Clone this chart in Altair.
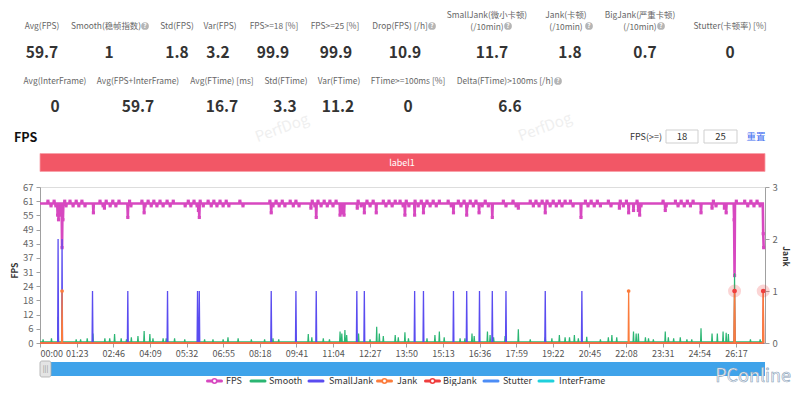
import altair as alt
import numpy as np
import pandas as pd

# ------------------------------------------------------------------
# values
# ------------------------------------------------------------------
stat1_labels = ["Avg(FPS)", "Smooth(稳帧指数)", "Std(FPS)", "Var(FPS)", "FPS>=18 [%]", "FPS>=25 [%]",
                "Drop(FPS) [/h]", "SmallJank(微小卡顿)", "Jank(卡顿)", "BigJank(严重卡顿)", "Stutter(卡顿率) [%]"]
stat1_sublabels = ["", "", "", "", "", "", "", "(/10min)", "(/10min)", "(/10min)", ""]
stat1_values = ["59.7", "1", "1.8", "3.2", "99.9", "99.9", "10.9", "11.7", "1.8", "0.7", "0"]
stat2_labels = ["Avg(InterFrame)", "Avg(FPS+InterFrame)", "Avg(FTime) [ms]", "Std(FTime)", "Var(FTime)",
                "FTime>=100ms [%]", "Delta(FTime)>100ms [/h]"]
stat2_values = ["0", "59.7", "16.7", "3.3", "11.2", "0", "6.6"]

series_names = ["FPS", "Smooth", "SmallJank", "Jank", "BigJank", "Stutter", "InterFrame"]
fps_threshold_inputs = ["18", "25"]

series_end_s = 1640          # last sample (seconds)
axis_end_s = 1643            # end of the time axis
x_tick_values = [0, 83, 166, 249, 332, 415, 498, 581, 664, 747, 830, 913, 996, 1079, 1162,
                 1245, 1328, 1411, 1494, 1577]
fps_tick_values = [0, 6.1, 12.2, 18.3, 24.4, 30.5, 36.6, 42.7, 48.8, 54.9, 61.0, 67.1]
jank_tick_values = [0, 1, 2, 3]

fps_base = 60
fps_hi_t = [18, 32, 56, 68, 82, 95, 136, 150, 165, 179, 203, 231, 245, 258, 272, 288, 302, 336, 349, 363,
            381, 394, 408, 422, 453, 521, 535, 549, 567, 580, 617, 630, 644, 657, 671, 721, 741, 755, 778,
            791, 805, 816, 830, 850, 864, 877, 891, 905, 925, 948, 961, 975, 988, 1009, 1050, 1072, 1111,
            1124, 1138, 1149, 1163, 1177, 1190, 1202, 1236, 1249, 1263, 1288, 1315, 1329, 1353, 1412, 1440,
            1453, 1467, 1480, 1526, 1578, 1597, 1611, 1625]
fps_lo_t = [25, 36, 59, 75, 88, 102, 143, 159, 172, 206, 238, 252, 265, 279, 295, 329, 342, 356, 370, 388,
            401, 415, 428, 460, 528, 542, 555, 574, 587, 623, 637, 651, 664, 728, 748, 784, 798, 823, 836,
            857, 871, 884, 898, 932, 954, 968, 982, 1002, 1016, 1056, 1079, 1118, 1131, 1156, 1170, 1183,
            1208, 1242, 1256, 1270, 1294, 1322, 1362, 1419, 1446, 1460, 1474, 1532, 1604, 1618, 1632]
fps_dip_t = [40, 42, 47, 50, 52, 121, 146, 199, 236, 359, 361, 524, 614, 626, 680, 684, 689, 719, 735, 762,
             827, 849, 869, 937, 967, 995, 1025, 1084, 1145, 1226, 1313, 1334, 1345, 1356, 1359, 1417, 1498,
             1523, 1551, 1555, 1573, 1574, 1639, 1640]
fps_dip_v = [55, 53, 55, 41, 53, 56, 58, 54, 56, 57, 54, 56, 58, 54, 55, 56, 55, 58, 56, 56,
             55, 55, 56, 56, 55, 56, 54, 58, 56, 54, 58, 56, 57, 57, 55, 57, 56,
             58, 58, 56, 53, 29, 47, 41]

smooth_base = 0.5
smooth_t = [7, 26, 41, 82, 92, 107, 120, 147, 158, 169, 184, 196, 207, 222, 236, 249, 256, 279, 286, 305,
            328, 358, 373, 392, 415, 426, 449, 479, 509, 528, 541,
            608, 616, 642, 656, 680, 684, 691, 695, 722, 748, 763, 769, 778, 805, 812, 827, 835, 877, 895,
            905, 916, 952, 963, 979, 984, 1014, 1020, 1028, 1054, 1084,
            1111, 1145, 1160, 1177, 1190, 1200, 1211, 1220, 1239, 1270, 1288, 1296, 1307, 1345, 1351, 1356,
            1372, 1379, 1390, 1417, 1424, 1436, 1451, 1466, 1477, 1498, 1523, 1535, 1548, 1555, 1560, 1574,
            1610, 1632]
smooth_v = [1.6, 2.0, 11.3, 1.6, 1.6, 2.0, 4.1, 2.0, 2.0, 3.9, 2.0, 1.6, 2.4, 3.0, 5.2, 3.9, 2.0, 2.0, 2.0, 2.0,
            1.6, 3.0, 1.6, 1.6, 1.6, 2.4, 2.0, 1.6, 1.6, 2.0, 1.6,
            3.9, 2.4, 2.0, 1.6, 4.9, 4.1, 5.6, 3.4, 4.1, 1.6, 7.0, 4.1, 3.0, 3.4, 2.4, 4.6, 2.0, 2.0, 3.4,
            4.9, 2.4, 2.0, 2.0, 4.1, 3.0, 4.9, 3.4, 2.4, 3.0, 5.9,
            1.6, 2.4, 2.0, 3.4, 2.4, 2.4, 3.4, 2.0, 2.7, 1.6, 2.4, 3.4, 2.4, 4.9, 4.1, 4.1,
            2.4, 2.0, 1.6, 4.9, 2.4, 2.0, 2.4, 1.6, 1.6, 6.3, 4.1, 4.1, 4.9, 4.4, 3.9, 30.0,
            1.6, 1.6]

smalljank_t = [41, 50, 119, 199, 289, 357, 361, 524, 580, 626, 718, 735, 849, 869, 937, 967, 996, 1025,
               1056, 1145, 1228]
smalljank_v = [2, 2, 1, 1, 1, 1, 1, 1, 1, 1, 1, 1, 1, 1, 1, 1, 1, 1, 1, 1, 1]
jank_t = [50, 1334, 1574, 1639]
jank_v = [1, 1, 1, 1]
bigjank_t = [1574, 1639]
bigjank_v = [1, 1]

# ------------------------------------------------------------------
# styles / layout (page pixel positions)
# ------------------------------------------------------------------
FONT = "Noto Sans CJK SC"
C_FPS, C_SMOOTH, C_SMALL, C_JANK, C_BIG, C_STUT, C_INTER = (
    "#d748c0", "#2bb673", "#5a4cf0", "#fb7c3c", "#ef3e3e", "#4c8df6", "#1fd0dc")
series_colors = [C_FPS, C_SMOOTH, C_SMALL, C_JANK, C_BIG, C_STUT, C_INTER]
series_symbol = [True, False, False, True, True, False, False]

OX, OY = 40, 187          # page position of the plot origin
W, H = 725, 156

stat1_label_x = [42, 106, 177, 220, 274, 335, 400, 487, 566, 640, 730]
stat1_value_x = [42, 109, 177, 218, 273, 336, 405, 492, 570, 645, 730]
stat2_label_x = [55, 138, 222, 286, 339, 408, 505]
stat2_value_x = [55, 138, 222, 285, 338, 408, 510]
help_icons = [(145, 26), (432, 26), (508, 26), (589, 26), (661, 26), (558, 81)]
legend_icon_x = [214.5, 258, 316, 384.5, 432.5, 491, 546]
legend_text_x = [226, 269, 329, 397, 443, 503, 559]
LEGEND_Y = 381

# ------------------------------------------------------------------
# series table (1 s resolution)
# ------------------------------------------------------------------
t = np.arange(series_end_s + 1)
fps = np.full(len(t), float(fps_base))
fps[fps_hi_t] = fps_base + 1
fps[fps_lo_t] = fps_base - 1
fps[fps_dip_t] = fps_dip_v
smooth = np.full(len(t), smooth_base)
smooth[smooth_t] = smooth_v
small = np.zeros(len(t)); small[smalljank_t] = smalljank_v
jank = np.zeros(len(t)); jank[jank_t] = jank_v
big = np.zeros(len(t)); big[bigjank_t] = bigjank_v
zero = np.zeros(len(t))
df = pd.DataFrame({"t": t, "fps": fps, "smooth": smooth, "small": small, "jank": jank,
                   "big": big, "stutter": zero, "inter": zero})

# ------------------------------------------------------------------
# encodings
# ------------------------------------------------------------------
x_axis = alt.Axis(values=x_tick_values, grid=False, title=None, domainColor="#a0a0a0", tickColor="#a0a0a0",
                  tickSize=4, labelPadding=2, labelFontSize=9, labelColor="#555", labelFont=FONT,
                  labelFlush=True, labelOverlap=False,
                  labelExpr="(floor(datum.value/60) < 10 ? '0' : '') + floor(datum.value/60) + ':' + "
                            "(datum.value % 60 < 10 ? '0' : '') + (datum.value % 60)")
X = alt.X("t:Q", scale=alt.Scale(domain=[0, axis_end_s], nice=False, zero=False), axis=x_axis)

left_axis = alt.Axis(orient="left", values=fps_tick_values, labelExpr="round(datum.value)", grid=False,
                     title="FPS", titleX=-26, titleY=83, titleBaseline="middle", titleAlign="center",
                     titleFontSize=8.5, titleFontWeight="bold",
                     titleColor="#333", titleFont=FONT, domainColor="#a0a0a0", tickColor="#a0a0a0",
                     tickSize=4, labelPadding=3, labelFontSize=9.5, labelColor="#666", labelFont=FONT,
                     labelOverlap=False)
right_axis = alt.Axis(orient="right", values=jank_tick_values, grid=False, title="Jank", titleAngle=90,
                      titleX=20, titleY=69, titleBaseline="middle", titleAlign="center",
                      titleFontSize=8.5, titleFontWeight="bold", titleColor="#333",
                      titleFont=FONT, domainColor="#a0a0a0", tickColor="#a0a0a0", tickSize=4,
                      labelPadding=3, labelFontSize=9.5, labelColor="#666", labelFont=FONT)


def yl(field):
    return alt.Y(f"{field}:Q", scale=alt.Scale(domain=[0, fps_tick_values[-1]], nice=False, zero=True),
                 axis=left_axis)


def yr(field):
    return alt.Y(f"{field}:Q", scale=alt.Scale(domain=[0, jank_tick_values[-1]], nice=False, zero=True),
                 axis=right_axis)


base = alt.Chart(df)
left = alt.layer(
    base.mark_line(color=C_INTER, strokeWidth=1.2).encode(x=X, y=yl("inter")),
    base.mark_line(color=C_STUT, strokeWidth=1.2).encode(x=X, y=yl("stutter")),
    base.mark_line(color=C_FPS, strokeWidth=2.6).encode(x=X, y=yl("fps")),
    base.transform_filter(f"datum.fps != {fps_base}").mark_point(
        shape="square", filled=True, size=10, color=C_FPS, opacity=1).encode(x=X, y=yl("fps")),
    base.mark_line(color=C_SMOOTH, strokeWidth=1.2).encode(x=X, y=yl("smooth")),
)
right = alt.layer(
    base.mark_line(color=C_SMALL, strokeWidth=1.3).encode(x=X, y=yr("small")),
    base.mark_line(color=C_BIG, strokeWidth=1.3).encode(x=X, y=yr("big")),
    base.mark_line(color=C_JANK, strokeWidth=1.3).encode(x=X, y=yr("jank")),
    base.transform_filter("datum.jank > 0").mark_circle(size=14, color=C_JANK, opacity=1).encode(
        x=X, y=yr("jank")),
    base.transform_filter("datum.big > 0").mark_circle(size=170, color=C_BIG, opacity=0.22).encode(
        x=X, y=yr("big")),
    base.transform_filter("datum.big > 0").mark_circle(size=22, color=C_BIG, opacity=1).encode(
        x=X, y=yr("big")),
)

# ------------------------------------------------------------------
# page furniture drawn in pixels (header stats, label bar, slider, legend)
# ------------------------------------------------------------------
PXX = alt.X("x:Q", scale=None, axis=None)
PXY = alt.Y("y:Q", scale=None, axis=None)


def pix_text(rows, **kw):
    d = pd.DataFrame(rows, columns=["x", "y", "text"])
    d["x"] = d["x"] - OX
    d["y"] = d["y"] - OY
    return alt.Chart(d).mark_text(font=FONT, baseline="middle", **kw).encode(x=PXX, y=PXY, text="text:N")


def pix_rect(rows, **kw):
    d = pd.DataFrame(rows, columns=["x", "y", "x2", "y2"])
    d[["x", "x2"]] = d[["x", "x2"]] - OX
    d[["y", "y2"]] = d[["y", "y2"]] - OY
    return alt.Chart(d).mark_rect(**kw).encode(x=PXX, y=PXY, x2="x2:Q", y2="y2:Q")


label_rows = []
for lab, sub, x in zip(stat1_labels, stat1_sublabels, stat1_label_x):
    if sub:
        label_rows += [(x, 14.5, lab), (x, 26.5, sub)]
    else:
        label_rows.append((x, 26, lab))
label_rows += [(x, 81, lab) for lab, x in zip(stat2_labels, stat2_label_x)]
value_rows = [(x, 53, v) for v, x in zip(stat1_values, stat1_value_x)]
value_rows += [(x, 107, v) for v, x in zip(stat2_values, stat2_value_x)]

help_df = pd.DataFrame([(x - OX, y - OY) for x, y in help_icons], columns=["x", "y"])
help_df["text"] = "?"

water = pix_text([(282, 128, "PerfDog"), (545, 127, "PerfDog")],
                 fontSize=15, color="#efefef", angle=340)

furniture = [
    water,
    pix_text(label_rows, fontSize=8.4, color="#666"),
    pix_text(value_rows, fontSize=15.5, fontWeight="bold", color="#333"),
    alt.Chart(help_df).mark_circle(size=60, color="#b5b5b5", opacity=1).encode(x=PXX, y=PXY),
    alt.Chart(help_df).mark_text(font=FONT, fontSize=6.5, fontWeight="bold", color="white",
                                 baseline="middle").encode(x=PXX, y=PXY, text="text:N"),
    pix_text([(14, 138, "FPS")], fontSize=12.5, fontWeight="bold", color="#111", align="left"),
    pix_text([(662, 136.5, "FPS(>=)")], fontSize=9, color="#333", align="right"),
    pix_rect([(666, 130, 698, 143), (704, 130, 737, 143)], fill="white", stroke="#cfcfcf", strokeWidth=1),
    pix_text([(682, 136.5, fps_threshold_inputs[0]), (720.5, 136.5, fps_threshold_inputs[1])],
             fontSize=9.5, color="#333"),
    pix_text([(756, 136.5, "重置")], fontSize=9.5, color="#3f6df0"),
    pix_rect([(40, 153.5, 765, 171.5)], fill="#f25766", stroke="#f7a0a8", strokeWidth=0.8),
    pix_text([(402, 162.5, "label1")], fontSize=9, color="white"),
    # data-zoom slider
    pix_rect([(40, 362, 765, 376)], fill="#3fa3ea"),
    pix_rect([(40, 361, 51, 377)], fill="#e4e4e4", stroke="#a9a9a9", strokeWidth=0.8, cornerRadius=2),
    pix_text([(45.5, 369, "|||")], fontSize=7, color="#888"),
    pix_text([(791, 376.5, "PConline")], fontSize=18, color="#f6f8fb", stroke="#8aa2b9", strokeWidth=0.6,
             align="right"),
]

# legend
leg = pd.DataFrame({"name": series_names, "ix": legend_icon_x, "tx": legend_text_x,
                    "c": series_colors, "sym": series_symbol})
leg["x"] = leg["ix"] - 7 - OX
leg["x2"] = leg["ix"] + 7 - OX
leg["cx"] = leg["ix"] - OX
leg["tx"] = leg["tx"] - OX
leg["y"] = LEGEND_Y - OY
legend = [
    alt.Chart(leg).mark_rule(strokeWidth=3, strokeCap="round").encode(
        x=PXX, x2="x2:Q", y=PXY, color=alt.Color("c:N", scale=None)),
    alt.Chart(leg).transform_filter("datum.sym").mark_point(
        shape="circle", filled=True, fill="white", size=20, strokeWidth=1.6, opacity=1).encode(
        x=alt.X("cx:Q", scale=None, axis=None), y=PXY, stroke=alt.Color("c:N", scale=None)),
    alt.Chart(leg).mark_text(font=FONT, fontSize=9, color="#333", align="left", baseline="middle").encode(
        x=alt.X("tx:Q", scale=None, axis=None), y=PXY, text="name:N"),
]

chart = alt.layer(left, right, *furniture, *legend).resolve_scale(y="independent").properties(
    width=W, height=H,
    autosize=alt.AutoSizeParams(type="none"),
    padding={"left": OX - 8, "top": OY - 8, "right": 792 - (OX + W), "bottom": 386 - (OY + H)},
).configure_view(strokeWidth=0).configure(background="white")

chart.save("out.html", embed_options={"renderer": "svg", "actions": False})
